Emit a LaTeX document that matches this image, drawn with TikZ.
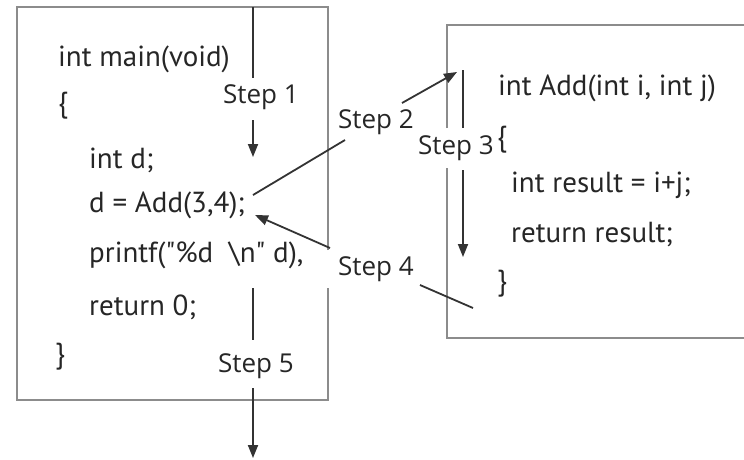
\documentclass[tikz,border=0pt]{standalone}
\usepackage{fontspec}
\newfontfamily\codefont{PT Sans}
\newfontfamily\lblfont{Open Sans}
\usetikzlibrary{arrows.meta}
\begin{document}
\begin{tikzpicture}[x=1pt,y=-1pt,
  boxline/.style={draw=black!45, line width=1.6pt},
  flow/.style={draw=black!80, line width=1.8pt},
  flowarrow/.style={flow, -{Triangle[length=13pt,width=10pt]}},
  code/.style={anchor=base west, inner sep=0pt, font=\codefont\fontsize{29}{34}\selectfont, text=black!85},
  lbl/.style={inner sep=0pt, font=\lblfont\fontsize{26}{30}\selectfont, text=black!85}]
\useasboundingbox[fill=white] (0,0) rectangle (744,459);
% boxes
\draw[boxline] (328,250) -- (328,7) -- (17,7) -- (17,400) -- (328,400) -- (328,288);
\draw[boxline] (447,128) -- (447,25) -- (760,25);
\draw[boxline] (447,168) -- (447,338) -- (760,338);
% code, main
\node[code] (m1) at (58,66) {int main(void)};
\node[code] (m2) at (58,112) {\{};
\node[code] (m3) at (89,168) {int d;};
\node[code] (m4) at (89,212) {d = Add(3,4);};
\node[code] (m5) at (89,262) {printf("\%d\ \ \textbackslash n" d),};
\node[code] (m6) at (89,315) {return 0;};
\node[code] (m7) at (55,363) {\}};
% code, Add
\node[code] (a1) at (498,95) {int Add(int i, int j)};
\node[code] (a2) at (497,146) {\{};
\node[code] (a3) at (511,192) {int result = i+j;};
\node[code] (a4) at (511,242) {return result;};
\node[code] (a5) at (497,290) {\}};
% labels
\node[lbl] (l1) at (261,97) {Step 1};
\node[lbl] (l2) at (376,122) {Step 2};
\node[lbl] (l3) at (456,148) {Step 3};
\node[lbl] (l4) at (376,269) {Step 4};
\node[lbl] (l5) at (256,366) {Step 5};
% connector ends
\coordinate (s1a) at (253,7);   \coordinate (s1b) at (253,78);
\coordinate (s1c) at (253,120); \coordinate (s1d) at (253,157);
\coordinate (s2a) at (253,195); \coordinate (s2b) at (345,140);
\coordinate (s2c) at (402,103); \coordinate (s2d) at (457,72);
\coordinate (s3a) at (463,70);  \coordinate (s3b) at (463,128);
\coordinate (s3c) at (463,170); \coordinate (s3d) at (463,257);
\coordinate (s4a) at (473,308); \coordinate (s4b) at (420,285);
\coordinate (s4c) at (330,248); \coordinate (s4d) at (255,215);
\coordinate (s5a) at (253,288); \coordinate (s5b) at (253,340);
\coordinate (s5c) at (253,388); \coordinate (s5d) at (253,458);
% connectors
\draw[flow] (s1a) -- (s1b);
\draw[flowarrow] (s1c) -- (s1d);
\draw[flow] (s2a) -- (s2b);
\draw[flowarrow] (s2c) -- (s2d);
\draw[flow] (s3a) -- (s3b);
\draw[flowarrow] (s3c) -- (s3d);
\draw[flow] (s4a) -- (s4b);
\draw[flowarrow] (s4c) -- (s4d);
\draw[flow] (s5a) -- (s5b);
\draw[flowarrow] (s5c) -- (s5d);
\end{tikzpicture}
\end{document}
